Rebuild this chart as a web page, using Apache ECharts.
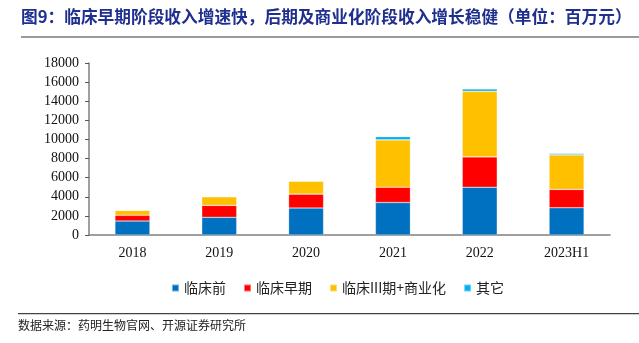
<!DOCTYPE html>
<html>
<head>
<meta charset="utf-8">
<script src="https://cdn.jsdelivr.net/npm/echarts@6/dist/echarts.min.js"></script>
<style>
html,body{margin:0;padding:0;background:#fff;}
#chart{width:639px;height:343px;}
</style>
</head>
<body>
<div id="chart"></div>
<script>
// 收入构成（百万元）
var categories = ['2018', '2019', '2020', '2021', '2022', '2023H1'];
var preClinical = [1460, 1850, 2820, 3400, 5000, 2850];
var earlyPhase = [600, 1250, 1460, 1600, 3180, 1920];
var latePhaseCommercial = [520, 900, 1360, 4950, 6860, 3620];
var others = [0, 0, 0, 350, 240, 140];
var yTicks = [0, 2000, 4000, 6000, 8000, 10000, 12000, 14000, 16000, 18000];

var seriesNames = ['临床前', '临床早期', '临床III期+商业化', '其它'];
var seriesColors = ['#0070C0', '#FF0000', '#FFC000', '#00B0F0'];
var seriesData = [preClinical, earlyPhase, latePhaseCommercial, others];

var chart = echarts.init(document.getElementById('chart'), null, {renderer: 'canvas'});
var serifFont = '"Liberation Serif","Times New Roman",serif';
var cjkFont = '"Noto Sans CJK SC","Noto Sans",sans-serif';

chart.setOption({
  animation: false,
  backgroundColor: '#fff',
  grid: {left: 89, right: 29, top: 63, bottom: 108, containLabel: false},
  legend: {
    data: seriesNames,
    top: 276,
    left: 166,
    itemWidth: 7,
    itemHeight: 7,
    itemGap: 17,
    icon: 'rect',
    textStyle: {fontFamily: cjkFont, fontSize: 14, color: '#222'}
  },
  xAxis: {
    type: 'category',
    data: categories,
    axisLine: {lineStyle: {color: '#808080', width: 1.5}},
    axisTick: {inside: true, length: 4, lineStyle: {color: '#555'}},
    axisLabel: {fontFamily: serifFont, fontSize: 14, color: '#111', margin: 11}
  },
  yAxis: {
    type: 'value',
    min: yTicks[0],
    max: yTicks[yTicks.length - 1],
    interval: yTicks[1] - yTicks[0],
    splitLine: {show: false},
    axisLine: {show: true, lineStyle: {color: '#808080', width: 1.5}},
    axisTick: {show: true, length: 4, lineStyle: {color: '#555'}},
    axisLabel: {
      fontFamily: serifFont, fontSize: 14, color: '#111', margin: 10,
      formatter: function (v) { return String(v); }
    }
  },
  series: seriesNames.map(function (name, i) {
    return {
      name: name,
      type: 'bar',
      stack: 'total',
      barWidth: 35,
      data: seriesData[i],
      itemStyle: {color: seriesColors[i], borderColor: 'rgba(255,255,255,0.45)', borderWidth: 0.6}
    };
  }),
  graphic: [
    {
      type: 'text', left: 21, top: 8,
      style: {
        text: '图9：临床早期阶段收入增速快，后期及商业化阶段收入增长稳健（单位：百万元）',
        font: 'bold 16.7px ' + cjkFont, fill: '#1F2F8F'
      }
    },
    {type: 'rect', shape: {x: 21, y: 36, width: 618, height: 2}, style: {fill: '#9a9a9a'}},
    {type: 'rect', shape: {x: 18, y: 313, width: 621, height: 1.2}, style: {fill: '#444'}},
    {
      type: 'text', left: 18, top: 319,
      style: {text: '数据来源：药明生物官网、开源证券研究所', font: '12px ' + cjkFont, fill: '#222'}
    }
  ]
});
</script>
</body>
</html>
